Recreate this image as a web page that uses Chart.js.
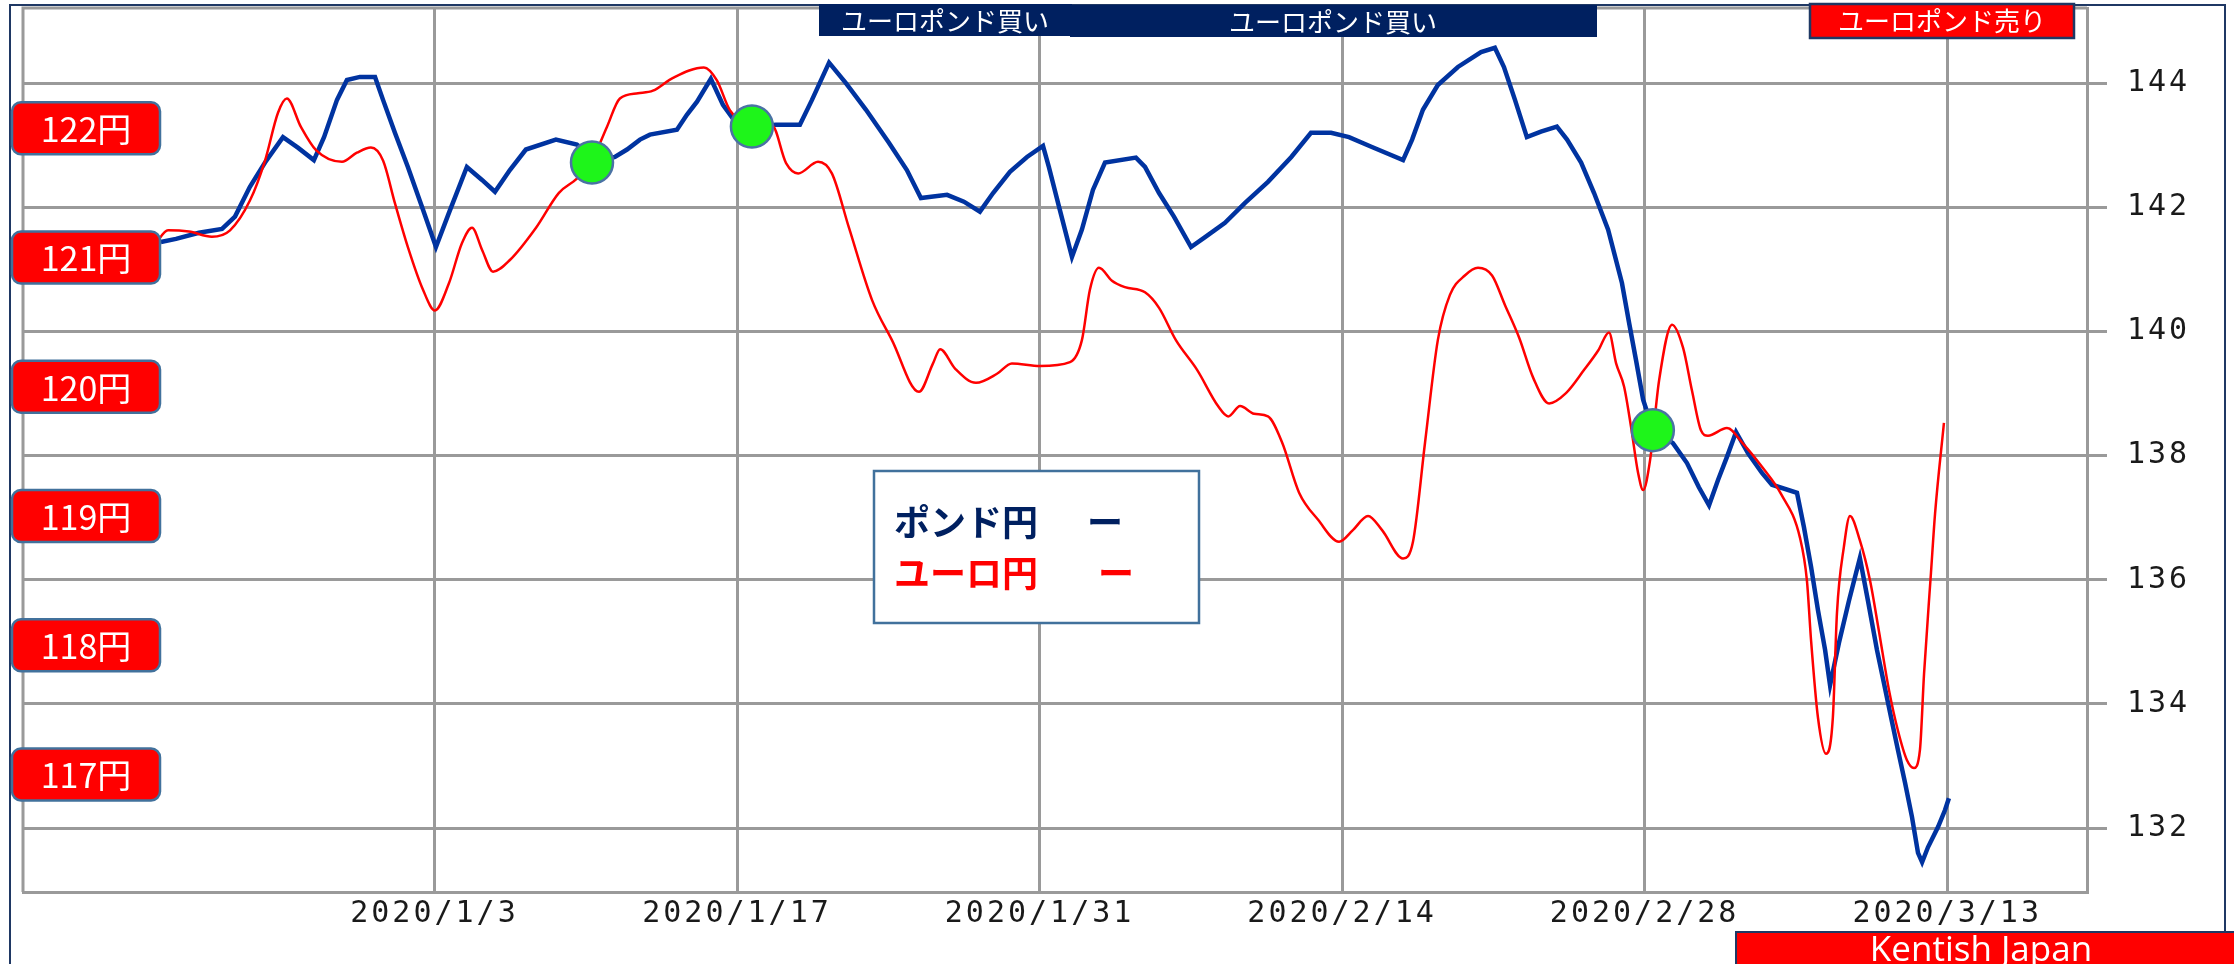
<!DOCTYPE html>
<html>
<head>
<meta charset="utf-8">
<script src="https://cdn.jsdelivr.net/npm/chart.js@4.4.1/dist/chart.umd.min.js"></script>
<style>
  html, body { margin: 0; padding: 0; background: #ffffff; }
  #wrap { width: 2234px; height: 964px; }
</style>
</head>
<body>
<div id="wrap"><canvas id="fxChart" width="2234" height="964"></canvas></div>
<script>
// x values are days counted from 2020/1/3
const dateTicks = [0, 14, 28, 42, 56, 70];
const dateLabels = ["2020/1/3", "2020/1/17", "2020/1/31", "2020/2/14", "2020/2/28", "2020/3/13"];
const poundTicks = [132, 134, 136, 138, 140, 142, 144];
const yenLabels = [122, 121, 120, 119, 118, 117];

// ポンド円 (GBP/JPY)
const poundDays = [
  -12.66, -11.96, -10.90, -9.83, -9.23, -8.54, -7.84, -7.01, -6.32, -5.58,
  -5.11, -4.51, -4.05, -3.45, -2.75, -2.38, -1.83, -1.23, -0.53, 0.07,
  0.67, 1.50, 2.20, 2.80, 3.49, 4.23, 5.62, 6.59, 7.57, 8.35,
  8.91, 9.51, 9.97, 11.22, 11.68, 12.15, 12.79, 13.35, 13.91, 14.70,
  15.80, 16.91, 17.47, 18.26, 19.04, 19.97, 21.03, 21.86, 22.51, 23.72,
  24.50, 25.24, 25.85, 26.63, 27.42, 28.16, 28.43, 28.90, 29.50, 29.96,
  30.47, 31.03, 32.46, 32.88, 33.53, 34.22, 35.01, 35.66, 36.58, 37.51,
  38.57, 39.65, 40.56, 41.49, 42.32, 43.38, 44.82, 45.24, 45.74, 46.43,
  47.36, 48.43, 49.07, 49.49, 50.00, 50.55, 51.20, 51.94, 52.41, 53.06,
  53.66, 54.31, 54.95, 55.28, 55.60, 55.93, 56.39, 57.31, 57.96, 58.51,
  58.98, 59.40, 59.81, 60.23, 60.78, 61.43, 61.89, 63.05, 63.37, 63.70,
  64.02, 64.35, 64.58, 64.99, 65.46, 65.96, 66.33, 66.75, 67.07, 67.40,
  67.72, 68.05, 68.37, 68.65, 68.84, 69.11, 69.58, 69.90, 70.08
];
const poundValues = [
  141.44, 141.49, 141.59, 141.65, 141.85, 142.33, 142.72, 143.13, 142.96, 142.76,
  143.13, 143.73, 144.05, 144.10, 144.10, 143.73, 143.20, 142.65, 141.96, 141.36,
  141.91, 142.65, 142.44, 142.25, 142.60, 142.93, 143.09, 143.01, 142.73, 142.81,
  142.93, 143.09, 143.17, 143.25, 143.49, 143.70, 144.07, 143.65, 143.38, 143.30,
  143.33, 143.33, 143.73, 144.33, 144.00, 143.57, 143.04, 142.60, 142.15, 142.20,
  142.09, 141.93, 142.23, 142.57, 142.81, 142.99, 142.65, 142.01, 141.20, 141.64,
  142.28, 142.72, 142.80, 142.65, 142.23, 141.85, 141.36, 141.52, 141.75, 142.07,
  142.41, 142.81, 143.20, 143.20, 143.13, 142.97, 142.76, 143.09, 143.57, 143.97,
  144.26, 144.50, 144.57, 144.26, 143.73, 143.13, 143.22, 143.30, 143.09, 142.72,
  142.23, 141.64, 140.78, 140.14, 139.54, 138.90, 138.41, 138.20, 137.88, 137.49,
  137.20, 137.61, 137.98, 138.38, 138.04, 137.72, 137.53, 137.40, 136.85, 136.21,
  135.51, 134.87, 134.30, 134.98, 135.67, 136.35, 135.67, 134.87, 134.34, 133.79,
  133.26, 132.73, 132.18, 131.60, 131.45, 131.69, 132.02, 132.29, 132.48
];

// ユーロ円 (EUR/JPY)
const yenDays = [
  -12.89, -12.33, -11.36, -10.30, -9.46, -8.54, -7.84, -7.24, -6.83, -6.18,
  -5.48, -4.28, -3.59, -2.94, -2.38, -1.83, -1.23, -0.53, 0.02, 0.67,
  1.27, 1.74, 2.20, 2.71, 3.49, 4.70, 5.76, 6.59, 7.29, 7.98,
  8.58, 9.42, 10.11, 11.04, 12.47, 13.07, 13.67, 14.70, 15.62, 16.27,
  16.83, 17.75, 18.39, 19.18, 20.25, 21.17, 22.42, 23.07, 23.40, 24.09,
  25.06, 26.03, 26.72, 28.02, 29.41, 29.96, 30.33, 30.75, 31.35, 31.95,
  32.88, 33.53, 34.31, 35.29, 36.26, 36.73, 37.28, 37.93, 38.57, 39.22,
  40.01, 40.89, 41.86, 42.50, 43.20, 43.85, 44.82, 45.28, 45.84, 46.43,
  46.99, 47.68, 48.29, 48.94, 49.54, 50.19, 50.84, 51.58, 52.36, 53.20,
  53.85, 54.35, 54.68, 55.05, 55.37, 55.70, 55.93, 56.25, 56.67, 57.27,
  57.78, 58.19, 58.61, 58.93, 59.81, 60.55, 61.43, 62.31, 63.19, 63.51,
  63.70, 64.02, 64.39, 64.71, 64.90, 65.22, 65.50, 65.96, 66.43, 66.84,
  67.31, 67.72, 68.14, 68.46, 68.74, 68.93, 69.25, 69.44, 69.85
];
const yenValues = [
  121.11, 121.21, 121.20, 121.16, 121.21, 121.44, 121.75, 122.12, 122.23, 122.01,
  121.83, 121.74, 121.81, 121.85, 121.75, 121.42, 121.08, 120.75, 120.59, 120.80,
  121.11, 121.23, 121.06, 120.89, 120.98, 121.23, 121.50, 121.61, 121.75, 122.01,
  122.23, 122.27, 122.29, 122.39, 122.47, 122.37, 122.14, 122.02, 122.02, 121.73,
  121.65, 121.74, 121.65, 121.23, 120.67, 120.36, 119.96, 120.18, 120.29, 120.14,
  120.03, 120.10, 120.18, 120.16, 120.19, 120.36, 120.75, 120.92, 120.82, 120.77,
  120.73, 120.61, 120.36, 120.13, 119.85, 119.77, 119.85, 119.79, 119.77, 119.57,
  119.18, 118.97, 118.80, 118.89, 119.00, 118.89, 118.67, 118.80, 119.57, 120.36,
  120.71, 120.86, 120.92, 120.86, 120.63, 120.38, 120.07, 119.87, 119.95, 120.13,
  120.28, 120.42, 120.18, 120.00, 119.69, 119.33, 119.20, 119.43, 120.05, 120.48,
  120.30, 119.97, 119.66, 119.62, 119.68, 119.56, 119.38, 119.17, 118.83, 118.50,
  118.04, 117.44, 117.16, 117.44, 118.25, 118.76, 119.00, 118.81, 118.50, 118.11,
  117.65, 117.34, 117.11, 117.05, 117.19, 117.78, 118.56, 119.02, 119.72
];

// green signal markers (on the pound scale)
const signalDays = [7.29, 14.69, 56.38];
const signalValues = [142.72, 143.30, 138.41];

const toPoints = (xs, ys) => xs.map((x, i) => ({ x, y: ys[i] }));

const NAVY = "#002060";
const FRAME = "#1f3864";
const STEEL = "#41719c";
const GRID = "#9a9a9a";
const JP_FONT = '"Noto Sans CJK JP", "Noto Sans", sans-serif';

const boxText = (ctx, text, cx, cy, font, color) => {
  ctx.font = font;
  ctx.fillStyle = color;
  ctx.textAlign = "center";
  ctx.textBaseline = "middle";
  ctx.fillText(text, cx, cy);
};

const overlayPlugin = {
  id: "overlay",
  beforeDraw(chart) {
    chart.ctx.letterSpacing = "3px";
  },
  beforeDatasetsDraw(chart) {
    const { ctx, chartArea } = chart;
    ctx.save();
    ctx.strokeStyle = GRID;
    ctx.lineWidth = 3;
    ctx.beginPath();
    ctx.moveTo(chartArea.left, chartArea.bottom);
    ctx.lineTo(chartArea.left, chartArea.top);
    ctx.lineTo(chartArea.right, chartArea.top);
    ctx.stroke();
    ctx.restore();
  },
  afterDraw(chart) {
    const { ctx } = chart;
    const yen = chart.scales.yYen;
    ctx.save();
    ctx.letterSpacing = "0px";

    // outer frame
    ctx.strokeStyle = FRAME;
    ctx.lineWidth = 2;
    ctx.beginPath();
    ctx.moveTo(10, 964);
    ctx.lineTo(10, 5);
    ctx.lineTo(2225, 5);
    ctx.lineTo(2225, 964);
    ctx.stroke();

    // signal banners along the top
    ctx.fillStyle = NAVY;
    ctx.fillRect(819, 4, 253, 32);
    ctx.fillRect(1070, 5, 527, 32);
    boxText(ctx, "ユーロポンド買い", 945, 21, `26px ${JP_FONT}`, "#ffffff");
    boxText(ctx, "ユーロポンド買い", 1333, 22, `26px ${JP_FONT}`, "#ffffff");

    ctx.beginPath();
    ctx.rect(1810, 4, 264, 34);
    ctx.fillStyle = "#ff0000";
    ctx.fill();
    ctx.strokeStyle = FRAME;
    ctx.lineWidth = 2.5;
    ctx.stroke();
    boxText(ctx, "ユーロポンド売り", 1942, 21, `26px ${JP_FONT}`, "#ffffff");

    // yen labels for the red line
    yenLabels.forEach((v) => {
      const cy = yen.getPixelForValue(v);
      ctx.beginPath();
      ctx.roundRect(12, cy - 26, 148, 52, 9);
      ctx.fillStyle = "#ff0000";
      ctx.fill();
      ctx.strokeStyle = STEEL;
      ctx.lineWidth = 2.5;
      ctx.stroke();
      boxText(ctx, `${v}円`, 86, cy + 1, `34px ${JP_FONT}`, "#ffffff");
    });

    // legend box
    ctx.beginPath();
    ctx.rect(874, 471, 325, 152);
    ctx.fillStyle = "#ffffff";
    ctx.fill();
    ctx.strokeStyle = STEEL;
    ctx.lineWidth = 2.5;
    ctx.stroke();
    ctx.textAlign = "left";
    ctx.textBaseline = "middle";
    ctx.font = `bold 36px ${JP_FONT}`;
    ctx.fillStyle = NAVY;
    ctx.fillText("ポンド円", 894, 522);
    ctx.fillText("ー", 1087, 522);
    ctx.fillStyle = "#ff0000";
    ctx.fillText("ユーロ円", 894, 573);
    ctx.fillText("ー", 1098, 573);

    // credit
    ctx.beginPath();
    ctx.rect(1736, 932, 520, 40);
    ctx.fillStyle = "#ff0000";
    ctx.fill();
    ctx.strokeStyle = FRAME;
    ctx.lineWidth = 2;
    ctx.stroke();
    boxText(ctx, "Kentish Japan", 1981, 951, '35px "Open Sans", "Noto Sans", sans-serif', "#ffffff");

    ctx.restore();
  },
};

new Chart(document.getElementById("fxChart"), {
  type: "line",
  data: {
    datasets: [
      {
        label: "signal",
        data: toPoints(signalDays, signalValues),
        yAxisID: "yPound",
        showLine: false,
        pointRadius: 21,
        pointBackgroundColor: "#1ef51a",
        pointBorderColor: "#4a72a4",
        pointBorderWidth: 2.5,
      },
      {
        label: "ユーロ円",
        data: toPoints(yenDays, yenValues),
        yAxisID: "yYen",
        borderColor: "#ff0000",
        borderWidth: 2.5,
        pointRadius: 0,
        cubicInterpolationMode: "monotone",
      },
      {
        label: "ポンド円",
        data: toPoints(poundDays, poundValues),
        yAxisID: "yPound",
        borderColor: "#0033a0",
        borderWidth: 4.5,
        pointRadius: 0,
        tension: 0,
      },
    ],
  },
  options: {
    responsive: false,
    animation: false,
    events: [],
    layout: { autoPadding: false, padding: { left: 23, top: 8, right: 0, bottom: 0 } },
    plugins: {
      legend: { display: false },
      tooltip: { enabled: false },
    },
    scales: {
      x: {
        type: "linear",
        min: -19.04,
        max: 76.47,
        afterBuildTicks(scale) {
          scale.ticks = dateTicks.map((value) => ({ value }));
        },
        afterFit(scale) {
          scale.height = 72;
          scale.paddingLeft = 0;
          scale.paddingRight = 0;
        },
        ticks: {
          callback: (value, index) => dateLabels[index],
          font: { family: "DejaVu Sans Mono", size: 30 },
          color: "#1a1a1a",
          padding: 4,
          maxRotation: 0,
          autoSkip: false,
        },
        grid: { color: GRID, lineWidth: 3, drawTicks: false },
        border: { display: true, color: GRID, width: 3 },
      },
      yPound: {
        type: "linear",
        position: "right",
        min: 130.97,
        max: 145.21,
        afterBuildTicks(scale) {
          scale.ticks = poundTicks.map((value) => ({ value }));
        },
        afterFit(scale) {
          scale.width = 147;
          scale.paddingTop = 0;
          scale.paddingBottom = 0;
        },
        ticks: {
          font: { family: "DejaVu Sans Mono", size: 30 },
          color: "#1a1a1a",
          padding: 20,
        },
        grid: { color: GRID, lineWidth: 3, tickLength: 20 },
        border: { display: true, color: GRID, width: 3 },
      },
      yYen: {
        type: "linear",
        position: "left",
        display: false,
        min: 116.09,
        max: 122.93,
      },
    },
  },
  plugins: [overlayPlugin],
});
</script>
</body>
</html>
